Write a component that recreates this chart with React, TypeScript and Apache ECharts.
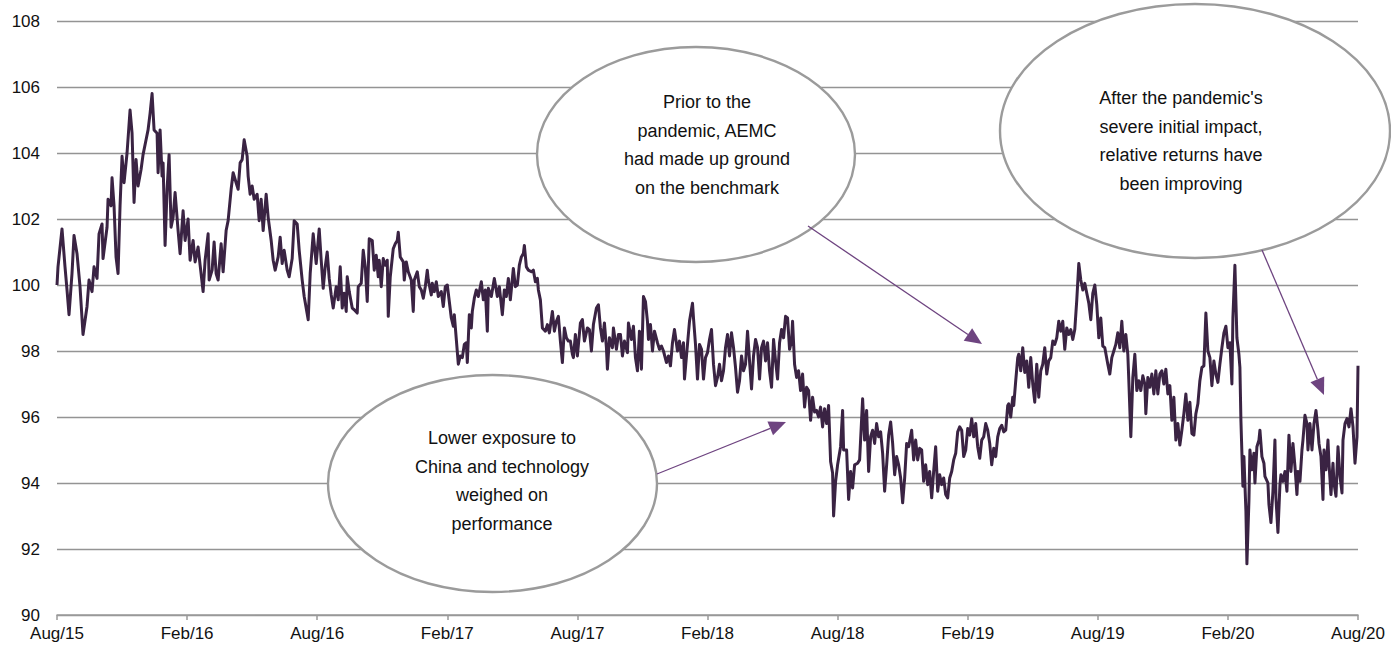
import React, { useEffect, useRef } from "react";
import * as echarts from "echarts";

// x axis tick labels (every six months)
const tickLabels = ["Aug/15", "Feb/16", "Aug/16", "Feb/17", "Aug/17", "Feb/18", "Aug/18", "Feb/19", "Aug/19", "Feb/20", "Aug/20"];

// observation position in business days since Aug 2015, and relative performance value
const days = [
  0, 1, 5, 8, 10, 12, 15, 17, 20, 23, 26, 30, 32, 35, 37, 40, 42, 45, 46, 50, 51, 54, 55, 57, 59, 61, 63, 65, 67, 70, 73, 75, 77, 79, 81, 84, 86, 89, 91, 93, 95, 97, 100, 101, 103, 105, 106, 108, 110, 112, 114, 116, 118, 121, 123, 126, 128, 131, 133, 136, 138, 141, 143, 146, 148, 151, 152, 155, 157, 159, 161, 164, 166, 169, 171, 174, 176, 179, 181, 183, 185, 187, 190, 191, 193, 195, 197, 200, 202, 204, 206, 209, 211, 214, 216, 218, 221, 223, 225, 227, 230, 232, 235, 237, 240, 242, 245, 247, 251, 253, 256, 259,
  262, 264, 266, 268, 270, 272, 274, 276, 279, 281, 283, 285, 287, 289, 290, 292, 295, 297, 300, 301, 304, 306, 308, 310, 312, 315, 317, 319, 321, 322, 324, 326, 328, 330, 331, 333, 336, 338, 340, 341, 343, 346, 347, 349, 351, 354, 356, 357, 360, 362, 364, 366, 368, 370, 371, 374, 375, 377, 379, 381, 384, 386, 388, 390, 392, 394, 396, 397, 399, 401, 403, 405, 407, 409, 410, 412, 414, 415, 417, 419, 421, 424, 426, 428, 430, 431, 434, 437, 440, 442, 445, 447, 449, 451, 453, 456, 458, 460, 462, 464, 466, 467, 469, 471, 474, 476, 478, 480, 481, 483, 485, 488, 490, 492, 495, 497, 499, 501, 503, 505, 507, 509, 511, 513, 515, 516, 518, 520,
  523, 525, 527, 530, 532, 534, 536, 539, 541, 543, 545, 547, 549, 550, 552, 555, 556, 559, 561, 563, 565, 567, 570, 571, 574, 576, 578, 580, 582, 584, 586, 588, 590, 591, 593, 595, 597, 600, 602, 604, 606, 609, 611, 613, 615, 617, 620, 622, 624, 626, 627, 630, 632, 635, 636, 638, 640, 642, 644, 646, 648, 650, 652, 654, 656, 658, 660, 662, 664, 666, 668, 670, 672, 674, 676, 678, 680, 682, 684, 686, 688, 690, 692, 694, 696, 698, 700, 702, 704, 706, 708, 710, 712, 714, 716, 718, 720, 722, 724, 726, 728, 730, 732, 734, 735, 737, 739, 741, 743, 745, 747, 749, 751, 753, 755, 757, 759, 761, 763, 765, 767, 769, 771, 773, 775, 776, 778,
  780, 783, 785, 786, 789, 791, 793, 795, 797, 800, 802, 805, 807, 809, 811, 813, 815, 817, 819, 821, 823, 825, 827, 829, 831, 833, 835, 837, 839, 841, 843, 845, 847, 849, 851, 854, 856, 858, 860, 862, 864, 866, 868, 870, 872, 874, 876, 878, 880, 882, 884, 886, 888, 890, 892, 894, 896, 898, 900, 902, 904, 906, 908, 910, 912, 914, 916, 918, 920, 922, 924, 926, 928, 930, 932, 934, 936, 938, 940, 942, 944, 946, 948, 950, 951, 953, 955, 956, 958, 960, 961, 963, 965, 967, 969, 971, 973, 975, 977, 979, 981, 983, 985, 987, 989, 991, 993, 995, 997, 999, 1001, 1003, 1005, 1007, 1009, 1011, 1013, 1015, 1017, 1019, 1021, 1023, 1025, 1027, 1029, 1031, 1033, 1035, 1037, 1039, 1041,
  1043, 1045, 1047, 1050, 1052, 1054, 1056, 1058, 1060, 1062, 1064, 1066, 1068, 1070, 1071, 1073, 1075, 1077, 1079, 1081, 1083, 1085, 1087, 1088, 1090, 1092, 1094, 1096, 1098, 1100, 1102, 1104, 1106, 1108, 1110, 1112, 1114, 1116, 1118, 1120, 1122, 1124, 1126, 1128, 1130, 1132, 1134, 1136, 1138, 1140, 1142, 1144, 1146, 1148, 1150, 1152, 1154, 1156, 1158, 1160, 1162, 1164, 1166, 1168, 1170, 1172, 1174, 1175, 1177, 1179, 1181, 1182, 1183, 1185, 1186, 1188, 1189, 1191, 1192, 1194, 1196, 1197, 1199, 1201, 1202, 1204, 1206, 1207, 1210, 1211, 1213, 1215, 1217, 1218, 1220, 1222, 1223, 1225, 1227, 1229, 1231, 1233, 1235, 1237, 1239, 1240, 1242, 1244, 1245, 1247, 1249, 1250, 1252, 1254, 1256, 1258, 1260, 1261, 1263, 1265, 1266, 1268, 1270, 1271, 1273, 1275, 1276, 1278, 1280, 1282, 1284, 1285, 1287, 1289, 1291, 1293, 1295, 1297, 1299, 1300,
];

const values = [
  100.0, 100.55, 101.7, 100.55, 99.85, 99.1, 100.35, 101.5, 100.95, 99.95, 98.5, 99.35, 100.15, 99.8, 100.55, 100.2, 101.55, 101.85, 100.8, 101.75, 102.6, 102.4, 103.25, 102.4, 100.85, 100.35, 102.4, 103.9, 103.1, 104.0, 105.3, 104.6, 102.5, 103.8, 103.0, 103.5, 103.95, 104.4, 104.7, 105.2, 105.8, 104.7, 104.6, 103.4, 104.7, 103.3, 103.7, 101.2, 102.9, 103.95, 101.75, 102.05, 102.8, 101.65, 100.95, 102.25, 101.35, 102.0, 100.75, 101.35, 100.7, 101.15, 100.6, 99.8, 100.75, 101.55, 100.15, 100.45, 101.3, 100.35, 100.15, 101.25, 100.4, 101.65, 101.95, 102.9, 103.4, 103.1, 102.9, 103.7, 103.8, 104.4, 103.9, 103.3, 102.75, 103.0, 102.6, 102.75, 101.95, 102.6, 101.65, 102.75, 102.05, 101.35, 100.75, 100.45, 100.85, 101.45, 100.65, 101.05, 100.45, 100.25, 100.8, 101.95, 101.85, 101.05, 100.15, 99.65, 98.95, 100.35, 101.55, 100.65,
  101.7, 100.75, 99.9, 100.55, 101.0, 100.2, 99.7, 99.3, 99.95, 99.55, 100.55, 99.3, 99.75, 99.2, 100.25, 99.8, 99.3, 99.25, 99.15, 99.95, 100.05, 101.05, 100.55, 99.5, 101.4, 101.35, 100.45, 100.9, 100.25, 100.75, 99.95, 100.8, 100.6, 100.75, 99.05, 100.25, 101.1, 101.25, 101.35, 101.6, 100.85, 100.7, 100.15, 100.7, 100.4, 100.15, 99.2, 100.15, 100.4, 99.95, 99.85, 99.6, 99.95, 100.45, 100.15, 99.7, 100.05, 99.8, 100.1, 99.65, 99.8, 99.35, 99.95, 100.0, 99.5, 99.0, 98.75, 99.1, 98.35, 97.6, 97.85, 97.8, 98.2, 98.25, 97.65, 99.1, 98.7, 99.2, 99.6, 99.85, 99.65, 100.1, 99.55, 99.85, 98.6, 99.9, 99.65, 100.2, 99.65, 99.95, 99.1, 99.85, 99.65, 100.2, 99.55, 100.5, 99.95, 100.0, 100.6, 100.85, 100.95, 101.2, 100.55, 100.45, 100.4, 100.45, 100.1, 100.2, 99.85, 99.55, 98.7, 98.6, 98.8, 98.55, 99.2, 98.6, 98.9, 99.05, 98.3, 97.65, 98.7, 98.4, 98.3, 98.3, 97.9, 97.8, 98.5, 97.85,
  98.85, 98.95, 98.3, 98.7, 98.65, 98.0, 98.8, 99.3, 99.4, 98.7, 98.3, 98.85, 98.1, 97.45, 98.4, 98.1, 98.7, 98.05, 98.5, 98.5, 97.85, 98.3, 97.95, 98.85, 98.35, 98.75, 97.8, 97.4, 98.6, 97.45, 99.65, 99.5, 98.9, 98.35, 98.8, 98.0, 98.6, 98.25, 98.05, 98.15, 98.0, 97.65, 97.85, 97.55, 98.25, 98.65, 98.0, 98.3, 97.8, 98.25, 97.15, 98.2, 98.9, 99.45, 99.0, 98.2, 97.15, 98.2, 98.05, 97.15, 97.8, 97.95, 98.35, 98.65, 97.6, 96.95, 97.2, 97.6, 97.1, 97.4, 98.1, 98.5, 97.85, 98.55, 98.1, 97.5, 96.75, 97.1, 97.85, 97.4, 97.6, 98.6, 97.7, 96.85, 97.85, 98.35, 98.1, 97.15, 98.1, 98.3, 97.7, 98.25, 97.4, 96.9, 98.35, 97.7, 97.15, 98.25, 98.65, 98.4, 99.05, 99.0, 98.05, 98.3, 98.9, 97.6, 97.2, 97.4, 96.8, 97.3, 96.3, 96.9, 96.8, 95.9, 96.6, 96.15, 96.2, 96.0, 96.3, 95.7, 96.25, 95.8, 96.35, 94.65, 94.3, 93.0, 94.05,
  94.55, 95.1, 96.2, 95.0, 95.0, 93.5, 94.35, 93.85, 94.55, 94.6, 94.7, 96.55, 95.3, 96.2, 94.35, 95.4, 95.6, 95.2, 95.8, 95.4, 95.55, 94.9, 93.75, 94.55, 95.45, 95.85, 95.2, 94.25, 94.8, 94.55, 94.15, 93.4, 94.15, 95.2, 95.1, 95.6, 94.7, 95.3, 94.7, 95.05, 95.0, 94.05, 94.55, 93.95, 94.35, 93.55, 94.35, 95.1, 93.75, 94.25, 93.95, 94.15, 93.65, 93.55, 94.15, 94.35, 94.7, 94.9, 95.55, 95.7, 95.6, 94.8, 95.0, 95.65, 95.45, 95.95, 95.4, 95.8, 95.1, 94.75, 95.3, 95.4, 95.8, 95.6, 95.2, 94.55, 95.05, 94.8, 95.4, 95.65, 95.75, 95.55, 95.6, 96.35, 96.4, 96.0, 96.6, 96.35, 97.1, 97.8, 97.9, 97.4, 98.1, 97.35, 97.7, 96.9, 97.8, 97.0, 96.45, 97.6, 96.6, 97.4, 97.6, 98.1, 97.3, 97.7, 97.8, 98.3, 98.2, 98.4, 98.9, 98.6, 98.9, 98.05, 98.7, 98.5, 98.65, 98.35, 98.65, 99.55, 100.65, 100.15, 99.85, 100.05, 99.75, 99.45, 98.95, 99.75, 100.0, 99.4, 98.4,
  99.0, 98.15, 98.1, 97.6, 97.3, 97.8, 98.0, 98.2, 98.55, 98.1, 98.9, 98.0, 98.5, 97.9, 97.1, 95.4, 97.2, 97.9, 96.8, 97.1, 96.8, 97.25, 97.0, 96.1, 97.2, 96.9, 97.3, 96.7, 97.4, 96.7, 97.3, 97.4, 97.0, 97.45, 96.7, 96.95, 95.9, 96.6, 95.3, 95.8, 95.15, 95.6, 96.1, 96.7, 95.9, 96.45, 95.5, 95.45, 96.1, 96.4, 97.1, 97.5, 97.55, 99.15, 98.0, 97.8, 96.95, 97.7, 97.3, 97.05, 97.6, 98.1, 98.55, 98.75, 98.1, 98.25, 97.0, 99.0, 100.6, 98.4, 97.9, 97.5, 95.9, 93.9, 94.8, 93.15, 91.55, 93.45, 95.0, 94.4, 94.9, 94.0, 95.1, 95.3, 95.6, 94.8, 94.6, 94.2, 94.0, 93.35, 92.8, 93.75, 95.3, 93.55, 92.5, 93.95, 94.25, 94.05, 94.35, 93.75, 95.45, 94.35, 95.2, 94.5, 93.65, 94.35, 94.05, 95.0, 95.3, 96.05, 95.8, 95.0, 95.8, 95.0, 95.8, 96.2, 95.6, 95.2, 94.8, 93.5, 95.0, 94.4, 95.3, 94.6, 93.65, 94.6, 94.0, 93.6, 95.1, 94.2, 93.7, 95.3, 95.8, 95.95, 95.7, 96.25, 95.7, 94.6, 95.4, 97.55,
];

// annotation texts
const noteLow = "Lower exposure to\nChina and technology\nweighed on\nperformance";
const noteMid = "Prior to the\npandemic, AEMC\nhad made up ground\non the benchmark";
const noteRight = "After the pandemic's\nsevere initial impact,\nrelative returns have\nbeen improving";

const FONT = '"Liberation Sans", Arial, Helvetica, sans-serif';
const ARROW = "#6e4480";

function arrow(x1: number, y1: number, x2: number, y2: number) {
  const dx = x2 - x1;
  const dy = y2 - y1;
  const len = Math.sqrt(dx * dx + dy * dy);
  const ux = dx / len;
  const uy = dy / len;
  const hl = 17;
  const hw = 7.5;
  const bx = x2 - ux * hl;
  const by = y2 - uy * hl;
  return [
    { type: "line", shape: { x1, y1, x2: bx, y2: by }, style: { stroke: ARROW, lineWidth: 1.3 }, z: 20 },
    {
      type: "polygon",
      shape: { points: [[x2, y2], [bx - uy * hw, by + ux * hw], [bx + uy * hw, by - ux * hw]] },
      style: { fill: ARROW },
      z: 20,
    },
  ];
}

function bubble(cx: number, cy: number, rx: number, ry: number, tx: number, ty: number, text: string) {
  return [
    { type: "ellipse", shape: { cx, cy, rx, ry }, style: { fill: "#ffffff", stroke: "#9b9b9b", lineWidth: 2.4 }, z: 10 },
    {
      type: "text",
      x: tx,
      y: ty,
      z: 11,
      style: { text, fill: "#111111", font: `18px ${FONT}`, align: "center", verticalAlign: "middle", lineHeight: 28.7 },
    },
  ];
}

export default function App() {
  const ref = useRef<HTMLDivElement>(null);
  useEffect(() => {
    if (!ref.current) return;
    const chart = echarts.init(ref.current, null, { renderer: "svg" });
    const data = days.map((d, i) => [d, values[i]]);
    chart.setOption({
      animation: false,
      backgroundColor: "#ffffff",
      grid: { left: 57, right: 33, top: 21, bottom: 31, containLabel: false },
      xAxis: {
        type: "value",
        min: 0,
        max: 1300,
        interval: 130,
        axisLine: { show: true, lineStyle: { color: "#9a9a9a", width: 1.5 } },
        axisTick: { show: true, length: 5, lineStyle: { color: "#9a9a9a", width: 1.5 } },
        splitLine: { show: false },
        axisLabel: {
          show: true,
          margin: 10,
          color: "#111111",
          fontSize: 17,
          fontFamily: FONT,
          showMinLabel: true,
          showMaxLabel: true,
          formatter: (v: number) => tickLabels[Math.round(v / 130)] ?? "",
        },
      },
      yAxis: {
        type: "value",
        min: 90,
        max: 108,
        interval: 2,
        axisLine: { show: false },
        axisTick: { show: false },
        splitLine: { show: true, lineStyle: { color: "#949494", width: 1.3 } },
        axisLabel: { margin: 17, color: "#111111", fontSize: 17, fontFamily: FONT },
      },
      series: [
        {
          type: "line",
          data,
          showSymbol: false,
          symbol: "none",
          lineStyle: { color: "#3a2343", width: 3, join: "round" },
          z: 5,
        },
      ],
      graphic: [
        ...bubble(492.5, 483.5, 164.5, 108.5, 502, 481, noteLow),
        ...bubble(696, 154.5, 159, 107.5, 707, 145, noteMid),
        ...bubble(1195, 131, 195, 127, 1181, 141, noteRight),
        ...arrow(657, 474, 786, 422),
        ...arrow(808, 226, 982, 344),
        ...arrow(1262, 250, 1324, 395),
      ],
    });
    return () => chart.dispose();
  }, []);
  return <div ref={ref} style={{ position: "fixed", left: 0, top: 0, width: 1391, height: 646 }} />;
}
